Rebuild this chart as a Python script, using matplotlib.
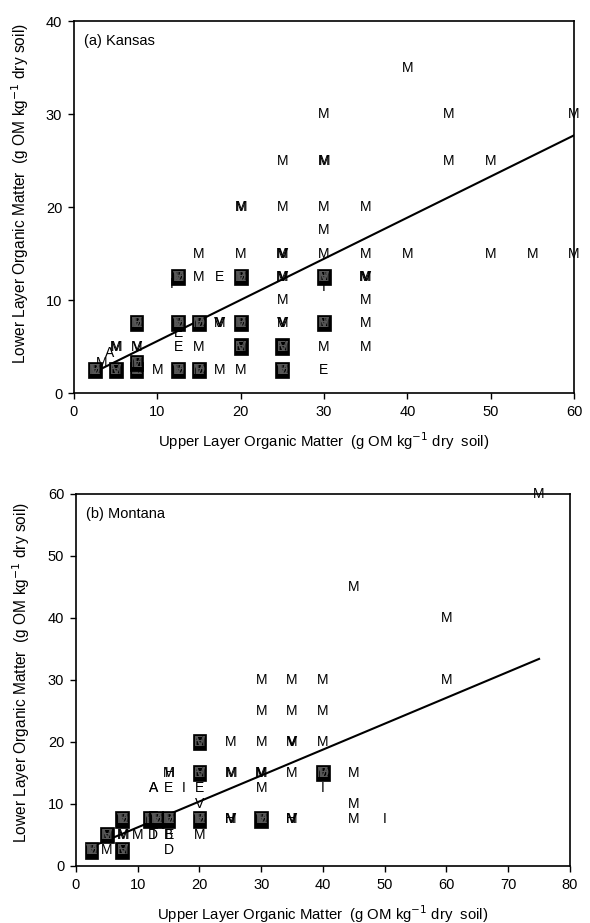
import numpy as np
import matplotlib.pyplot as plt

# Kansas: x, y, overlapping plot letters at each point
ks_x = [40,
        30, 45, 60,
        25, 30, 45, 50,
        20, 25, 30, 35,
        30,
        15, 20, 25, 30, 35, 40, 50, 55, 60,
        15, 17.5, 25, 35, 11.7, 30,
        25, 35,
        17.5, 25, 35, 12.5,
        4.3, 5, 7.5, 12.5, 15, 30, 35,
        3.3, 10, 17.5, 20, 30]
ks_y = [35,
        30, 30, 30,
        25, 25, 25, 25,
        20, 20, 20, 20,
        17.5,
        15, 15, 15, 15, 15, 15, 15, 15, 15,
        12.5, 12.5, 12.5, 12.5, 11.7, 11.4,
        10, 10,
        7.5, 7.5, 7.5, 6.4,
        4.3, 5, 5, 5, 5, 5, 5,
        3.2, 2.5, 2.5, 2.5, 2.5]
ks_lab = ['M',
          'M', 'M', 'M',
          'M', 'MM', 'M', 'M',
          'MM', 'M', 'M', 'M',
          'M',
          'M', 'M', 'MVM', 'M', 'M', 'M', 'M', 'M', 'M',
          'M', 'E', 'MVM', 'MVM', 'I', 'I',
          'M', 'M',
          'MVV', 'MVV', 'M', 'E',
          'A', 'MM', 'MV', 'E', 'M', 'M', 'M',
          'M', 'M', 'M', 'M', 'E']
# points where many letters pile up into a dark square
ks_blob_x = [12.5, 20, 30, 7.5, 12.5, 15, 20, 30, 20, 25, 2.5, 5, 7.5, 7.5, 12.5, 15, 25]
ks_blob_y = [12.5, 12.5, 12.5, 7.5, 7.5, 7.5, 7.5, 7.5, 5, 5, 2.5, 2.5, 2.5, 3.2, 2.5, 2.5, 2.5]
ks_blob_lab = ['MEIDV', 'MEIDV', 'MVEI', 'MEIDV', 'MEIDV', 'MEIDV', 'MEIDV', 'MVEI', 'MVE',
               'MVE', 'MEIDV', 'MVE', 'MEIDV', 'MEI', 'MEIDV', 'MEIDV', 'MEIDV']
ks_fit = (1.16, 0.4425)
ks_fit_end = 60

# Montana
mt_x = [75, 45, 60,
        30, 35, 40, 60,
        30, 35, 40,
        25, 30, 35, 40,
        15, 25, 30, 35, 45,
        12.5, 15, 17.5, 20, 30, 40,
        20, 45,
        25, 35, 45, 50,
        7.5, 10, 12.5, 15, 20,
        5, 15]
mt_y = [60, 45, 40,
        30, 30, 30, 30,
        25, 25, 25,
        20, 20, 20, 20,
        15, 15, 15, 15, 15,
        12.5, 12.5, 12.5, 12.5, 12.5, 12.5,
        10, 10,
        7.5, 7.5, 7.5, 7.5,
        5, 5, 5, 5, 5,
        2.5, 2.5]
mt_lab = ['M', 'M', 'M',
          'M', 'M', 'M', 'M',
          'M', 'M', 'M',
          'M', 'M', 'MVV', 'M',
          'MH', 'MM', 'MVM', 'M', 'M',
          'AA', 'E', 'I', 'E', 'M', 'I',
          'V', 'M',
          'MVH', 'MVH', 'M', 'I',
          'MM', 'M', 'DI', 'BE', 'M',
          'M', 'D']
mt_blob_x = [20, 20, 40, 7.5, 12, 13, 15, 20, 30, 5, 2.5, 7.5]
mt_blob_y = [20, 15, 15, 7.5, 7.5, 7.5, 7.5, 7.5, 7.5, 5, 2.5, 2.5]
mt_blob_lab = ['MVE', 'MVE', 'MEIDV', 'MEIDV', 'MEIDV', 'MEIDV', 'MEIDV', 'MEIDV', 'MEIDV',
               'MVE', 'MEIDV', 'MVE']
mt_fit = (2.05, 0.418)
mt_fit_end = 75

plt.rcParams['font.family'] = 'Liberation Sans'

fig = plt.figure(figsize=(5.9, 9.23), dpi=100)
ax1 = fig.add_axes([0.1254, 0.5742, 0.8475, 0.4030])
ax2 = fig.add_axes([0.1288, 0.0618, 0.8372, 0.4030])


def put_letters(ax, x, y, lab, box=False):
    for k, ch in enumerate(lab):
        # small shifts so stacked letters smear like the printed plot
        dx = [0, 0.6, -0.6, 0.3, -0.3][k % 5]
        kw = {}
        if box and k == 0:
            kw['bbox'] = dict(boxstyle='square,pad=0.08', fc='black', ec='black', lw=0.5)
        ax.annotate(ch, (x, y), xytext=(dx, 0), textcoords='offset points',
                    ha='center', va='center', fontsize=10,
                    color='0.35' if box else 'black', **kw)


def draw_panel(ax, xs, ys, labs, bx, by, blab, fit, fit_end, xmax, ymax, title, ylab_pos):
    for x, y, lab in zip(xs, ys, labs):
        put_letters(ax, x, y, lab)
    for x, y, lab in zip(bx, by, blab):
        put_letters(ax, x, y, lab, box=True)
    xl = np.array([2.5, fit_end])
    ax.plot(xl, fit[0] + fit[1] * xl, color='black', lw=1.5)
    ax.set_xlim(0, xmax)
    ax.set_ylim(0, ymax)
    ax.set_xticks(np.arange(0, xmax + 1, 10))
    ax.set_yticks(np.arange(0, ymax + 1, 10))
    ax.tick_params(direction='out', length=4.5, width=1, labelsize=10.5, pad=4)
    for s in ax.spines.values():
        s.set_linewidth(1.2)
    ax.text(0.02, 0.965, title, transform=ax.transAxes, ha='left', va='top', fontsize=10.5)
    ax.set_xlabel('Upper Layer Organic Matter  (g OM kg$^{-1}$ dry  soil)', fontsize=10.7, labelpad=8)
    ax.set_ylabel('Lower Layer Organic Matter  (g OM kg$^{-1}$ dry soil)', fontsize=11.2)
    ax.yaxis.set_label_coords(*ylab_pos)


draw_panel(ax1, ks_x, ks_y, ks_lab, ks_blob_x, ks_blob_y, ks_blob_lab,
           ks_fit, ks_fit_end, 60, 40, '(a) Kansas', (-0.085, 0.535))
draw_panel(ax2, mt_x, mt_y, mt_lab, mt_blob_x, mt_blob_y, mt_blob_lab,
           mt_fit, mt_fit_end, 80, 60, '(b) Montana', (-0.089, 0.52))

fig.savefig('out.png', dpi=100)
